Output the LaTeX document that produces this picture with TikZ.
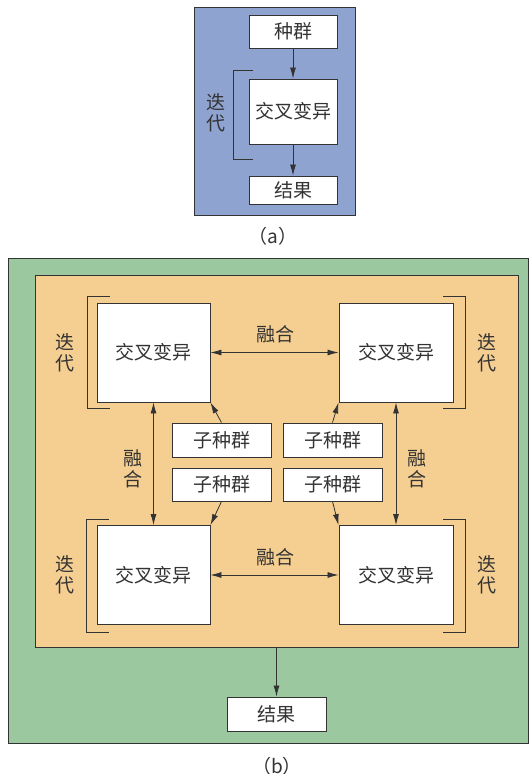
\documentclass[tikz,border=0pt]{standalone}
\usepackage{fontspec}
\setmainfont{Noto Sans CJK SC}
\usetikzlibrary{arrows.meta}
\definecolor{bluebg}{RGB}{143,163,209}
\definecolor{greenbg}{RGB}{155,200,158}
\definecolor{orangebg}{RGB}{245,206,145}
\definecolor{linegray}{RGB}{51,51,51}
\begin{document}
\begin{tikzpicture}[
x=1pt,y=-1pt,
font=\fontsize{19}{21}\selectfont,
every node/.style={inner sep=0pt,text=linegray},
box/.style={
draw=linegray,
line width=0.9pt,
fill=white
},
arr/.style={draw=linegray,line width=0.8pt,-{Latex[length=11pt,width=6pt]}},
darr/.style={draw=linegray,line width=0.8pt,{Latex[length=11pt,width=6pt]}-{Latex[length=11pt,width=6pt]}},
brk/.style={draw=linegray,line width=0.8pt}
]
\useasboundingbox (0,0) rectangle (532,774);

% (a)
\draw[fill=bluebg,draw=linegray,line width=0.8pt] (194,7) rectangle (355,215);

\node[box,minimum width=88pt,minimum height=33pt] (pop) at (293,31.5)
{种群};

\node[box,minimum width=88pt,minimum height=65pt] (cross) at (293,111.5)
{交叉变异};

\node[box,minimum width=88pt,minimum height=28pt] (res) at (293,190)
{结果};

\draw[brk] (253,70) -- (233,70) -- (233,159) -- (253,159);
\node[align=center] (itera) at (216,113) {迭\\代};

\draw[arr] (pop) -- (cross);
\draw[arr] (cross) -- (res);

\node (capa) at (273,236) {（a）};

% (b)
\draw[fill=greenbg,draw=linegray,line width=0.8pt] (8,258) rectangle (528,743);
\node[draw=linegray,line width=0.8pt,fill=orangebg,
minimum width=483pt,minimum height=372pt] (inner) at (276.5,461) {};

\node[box,minimum width=113pt,minimum height=99pt] (TL) at (153.5,352.5)
{交叉变异};
\node[box,minimum width=114pt,minimum height=99pt] (TR) at (396,352.5)
{交叉变异};
\node[box,minimum width=113pt,minimum height=99pt] (BL) at (153.5,575)
{交叉变异};
\node[box,minimum width=114pt,minimum height=99pt] (BR) at (396,575)
{交叉变异};

\node[box,minimum width=99pt,minimum height=34pt] (L1) at (221.5,440) {子种群};
\node[box,minimum width=99pt,minimum height=34pt] (R1) at (332.5,440) {子种群};
\node[box,minimum width=99pt,minimum height=33pt] (L2) at (221.5,484.5) {子种群};
\node[box,minimum width=99pt,minimum height=33pt] (R2) at (332.5,484.5) {子种群};

\node[box,minimum width=99pt,minimum height=34pt] (resb) at (276.5,714)
{结果};

% brackets
\draw[brk] (110,296) -- (87,296) -- (87,408) -- (110,408);
\draw[brk] (443,296) -- (465,296) -- (465,408) -- (443,408);
\draw[brk] (109,519) -- (86.5,519) -- (86.5,632) -- (109,632);
\draw[brk] (443,519) -- (465,519) -- (465,632) -- (443,632);

\node[align=center] (itTL) at (65,353) {迭\\代};
\node[align=center] (itTR) at (487,353) {迭\\代};
\node[align=center] (itBL) at (64.5,575) {迭\\代};
\node[align=center] (itBR) at (487,575) {迭\\代};

% fusion
\draw[darr] (TL) -- (TR);
\draw[darr] (BL) -- (BR);
\draw[darr] (TL) -- (BL);
\draw[darr] (TR) -- (BR);

\node (fT) at (275,334) {融合};
\node (fB) at (275,557) {融合};
\node[align=center] (fL) at (133,469) {融\\合};
\node[align=center] (fR) at (417,469) {融\\合};

\draw[arr] (L1.north) -- (TL.south east);
\draw[arr] (R1.north) -- (TR.south west);
\draw[arr] (L2.south) -- (BL.north east);
\draw[arr] (R2.south) -- (BR.north west);

\draw[arr] (inner.south) -- (resb);

\node (capb) at (277,766) {（b）};

\end{tikzpicture}
\end{document}
